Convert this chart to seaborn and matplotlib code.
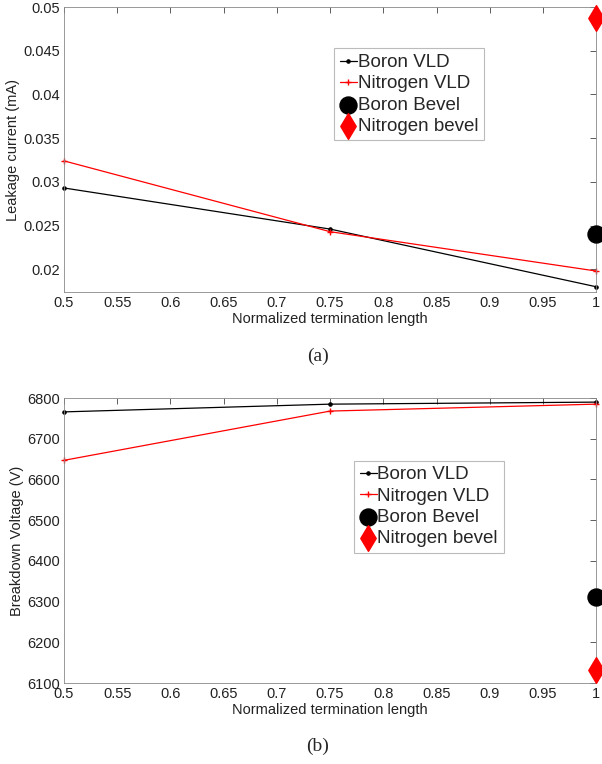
import matplotlib
matplotlib.use('Agg')
import matplotlib.pyplot as plt
import pandas as pd
import seaborn as sns

# data
lengths = [0.5, 0.75, 1.0]
leak_boron_vld = [0.0293, 0.0246, 0.0180]
leak_nitrogen_vld = [0.0324, 0.0243, 0.0198]
leak_boron_bevel = [0.0240]
leak_nitrogen_bevel = [0.0487]

bv_boron_vld = [6766, 6785, 6790]
bv_nitrogen_vld = [6647, 6768, 6785]
bv_boron_bevel = [6312]
bv_nitrogen_bevel = [6131]

bevel_x = [1.0]
xticks = [0.5, 0.55, 0.6, 0.65, 0.7, 0.75, 0.8, 0.85, 0.9, 0.95, 1.0]
xticklabels = ['0.5', '0.55', '0.6', '0.65', '0.7', '0.75', '0.8', '0.85', '0.9', '0.95', '1']

sns.set_style('white')
plt.rcParams['font.family'] = ['Liberation Sans', 'DejaVu Sans']

fig = plt.figure(figsize=(6.02, 7.64), dpi=100)
ax1 = fig.add_axes([0.1063, 0.6178, 0.884, 0.373])
ax2 = fig.add_axes([0.1063, 0.106, 0.884, 0.373])


def draw_panel(ax, boron_vld, nitrogen_vld, boron_bevel, nitrogen_bevel):
    vld = pd.DataFrame({'x': lengths, 'b': boron_vld, 'n': nitrogen_vld})
    sns.lineplot(data=vld, x='x', y='b', ax=ax, color='black', lw=0.9,
                 marker='.', markersize=5, markeredgecolor='black',
                 label='Boron VLD', clip_on=False)
    sns.lineplot(data=vld, x='x', y='n', ax=ax, color='red', lw=0.9,
                 marker='+', markersize=4.5, markeredgewidth=1.0,
                 markeredgecolor='red', label='Nitrogen VLD', clip_on=False)
    sns.scatterplot(x=bevel_x, y=boron_bevel, ax=ax, color='black', marker='o',
                    s=150, edgecolor='black', label='Boron Bevel', zorder=5, clip_on=False)
    sns.scatterplot(x=bevel_x, y=nitrogen_bevel, ax=ax, color='red', marker='d',
                    s=170, edgecolor='red', label='Nitrogen bevel', zorder=5, clip_on=False)
    ax.set_xlim(0.5, 1.0)
    ax.set_xticks(xticks)
    ax.set_xticklabels(xticklabels)
    ax.tick_params(direction='in', length=4, width=0.6, color='#444444',
                   top=True, right=True, labelsize=10.5, pad=3, labelcolor='#222222')
    for s in ax.spines.values():
        s.set_linewidth(0.6)
        s.set_color('#888888')
    ax.set_xlabel('Normalized termination length', fontsize=10.5, color='#222222', labelpad=1)


def style_legend(ax, anchor):
    leg = ax.legend(loc='upper left', bbox_to_anchor=anchor, fontsize=13.5,
                    frameon=True, fancybox=False, handlelength=0.9, handletextpad=0.05,
                    borderpad=0.3, labelspacing=0.22, borderaxespad=0)
    leg.get_frame().set_edgecolor('#aaaaaa')
    leg.get_frame().set_linewidth(0.8)


draw_panel(ax1, leak_boron_vld, leak_nitrogen_vld, leak_boron_bevel, leak_nitrogen_bevel)
ax1.set_ylim(0.0174, 0.05)
ax1.set_yticks([0.02, 0.025, 0.03, 0.035, 0.04, 0.045, 0.05])
ax1.set_yticklabels(['0.02', '0.025', '0.03', '0.035', '0.04', '0.045', '0.05'])
ax1.set_ylabel('Leakage current (mA)', fontsize=10.5, color='#222222', labelpad=2)
style_legend(ax1, (0.508, 0.855))

draw_panel(ax2, bv_boron_vld, bv_nitrogen_vld, bv_boron_bevel, bv_nitrogen_bevel)
ax2.set_ylim(6100, 6800)
ax2.set_yticks([6100, 6200, 6300, 6400, 6500, 6600, 6700, 6800])
ax2.set_ylabel('Breakdown Voltage (V)', fontsize=10.5, color='#222222', labelpad=2)
style_legend(ax2, (0.545, 0.78))

fig.text(0.528, 1 - 356 / 764, '(a)', ha='center', va='center', fontsize=14,
         family=['Liberation Serif', 'DejaVu Serif'])
fig.text(0.528, 1 - 746 / 764, '(b)', ha='center', va='center', fontsize=14,
         family=['Liberation Serif', 'DejaVu Serif'])

fig.savefig('out.png', dpi=100)
